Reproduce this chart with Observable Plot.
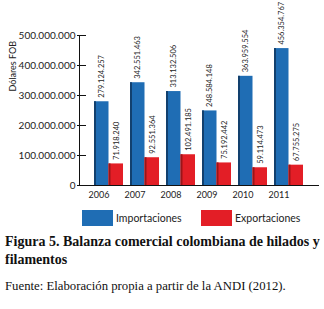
<!DOCTYPE html>
<html>
<head>
<meta charset="utf-8">
<script src="https://cdn.jsdelivr.net/npm/d3@7"></script>
<script src="https://cdn.jsdelivr.net/npm/@observablehq/plot@0.6"></script>
<style>
  html, body { margin: 0; padding: 0; background: #fff; }
  body { position: relative; width: 324px; height: 309px; overflow: hidden; }
  #chart { position: absolute; left: 0; top: 0; }
  .legend { position: absolute; top: 210px; font-family: Lato, "Open Sans", sans-serif; font-size: 10.5px; color: #222; }
  .sw { position: absolute; top: 0; width: 31px; height: 16px; }
  .lt { position: absolute; top: 1px; line-height: 14px; white-space: nowrap; }
  .cap { position: absolute; left: 5px; font-family: "Liberation Serif", "DejaVu Serif", serif; color: #111; white-space: nowrap; }
</style>
</head>
<body>
<div id="chart"></div>
<div class="legend" id="legend"></div>
<div class="cap" style="top:233px; font-size:14px; font-weight:bold; line-height:18px;">Figura 5. Balanza comercial colombiana de hilados y<br>filamentos</div>
<div class="cap" style="top:279px; font-size:12.75px;">Fuente: Elaboración propia a partir de la ANDI (2012).</div>
<script>
const years = ["2006", "2007", "2008", "2009", "2010", "2011"];
const importaciones = [279124257, 342551463, 313132506, 248584148, 363959554, 456354767];
const exportaciones = [71918240, 92551364, 102491185, 75192442, 59114473, 67755275];
const seriesNames = ["Importaciones", "Exportaciones"];
const seriesColors = ["#1f6db4", "#e31e26"];
const seriesEdge = ["#12406e", "#9c1418"];
const yTicks = [0, 100000000, 200000000, 300000000, 400000000, 500000000];
const yLabel = "Dólares FOB";

const fmt = d3.formatLocale({decimal: ",", thousands: ".", grouping: [3], currency: ["$", ""]}).format(",d");

const imp = years.map((y, i) => ({year: y, value: importaciones[i]}));
const exp = years.map((y, i) => ({year: y, value: exportaciones[i]}));

const half = 14.5;
const font = "Lato, 'Open Sans', sans-serif";

const plot = Plot.plot({
  width: 324,
  height: 200,
  marginLeft: 79,
  marginRight: 6,
  marginTop: 35,
  marginBottom: 15,
  style: {fontFamily: font, color: "#222", background: "#fff", overflow: "visible"},
  x: {type: "band", domain: years, paddingInner: 0.194, paddingOuter: 0.389, label: null},
  y: {domain: [0, 500000000], label: null},
  marks: [
    Plot.barY(imp, {x: "year", y: "value", fill: seriesColors[0], insetRight: half}),
    Plot.barY(imp, {x: "year", y: "value", fill: seriesEdge[0], insetRight: half + 12.5}),
    Plot.barY(exp, {x: "year", y: "value", fill: seriesColors[1], insetLeft: half}),
    Plot.barY(exp, {x: "year", y: "value", fill: seriesEdge[1], insetLeft: half, insetRight: 12.5}),
    Plot.text(imp, {x: "year", y: "value", text: d => fmt(d.value), rotate: -90, textAnchor: "start", dx: -7.25, dy: -4, fontSize: 7.5, fill: "#222"}),
    Plot.text(exp, {x: "year", y: "value", text: d => fmt(d.value), rotate: -90, textAnchor: "start", dx: 7.25, dy: -4, fontSize: 7.5, fill: "#222"}),
    Plot.axisY({ticks: yTicks, tickSize: 0, tickPadding: 4, tickFormat: d => fmt(d), fontSize: 10, label: null}),
    Plot.axisY({ticks: yTicks, tickSize: 9, dx: 7, tickFormat: () => "", label: null, stroke: "#111"}),
    Plot.text([yLabel], {frameAnchor: "left", dx: -66, dy: -19, rotate: -90, fontSize: 9, fill: "#222"}),
    Plot.axisX({tickSize: 0, tickPadding: 6, dx: -10, fontSize: 9, label: null}),
    Plot.frame({anchor: "left", stroke: "#111"}),
    Plot.frame({anchor: "bottom", stroke: "#111"})
  ]
});
document.getElementById("chart").appendChild(plot);

const legend = document.getElementById("legend");
const swX = [82, 201];
const txX = [116, 235];
seriesNames.forEach((n, i) => {
  const s = document.createElement("div");
  s.className = "sw";
  s.style.left = swX[i] + "px";
  s.style.background = seriesColors[i];
  legend.appendChild(s);
  const t = document.createElement("div");
  t.className = "lt";
  t.style.left = txX[i] + "px";
  t.textContent = n;
  legend.appendChild(t);
});
</script>
</body>
</html>
